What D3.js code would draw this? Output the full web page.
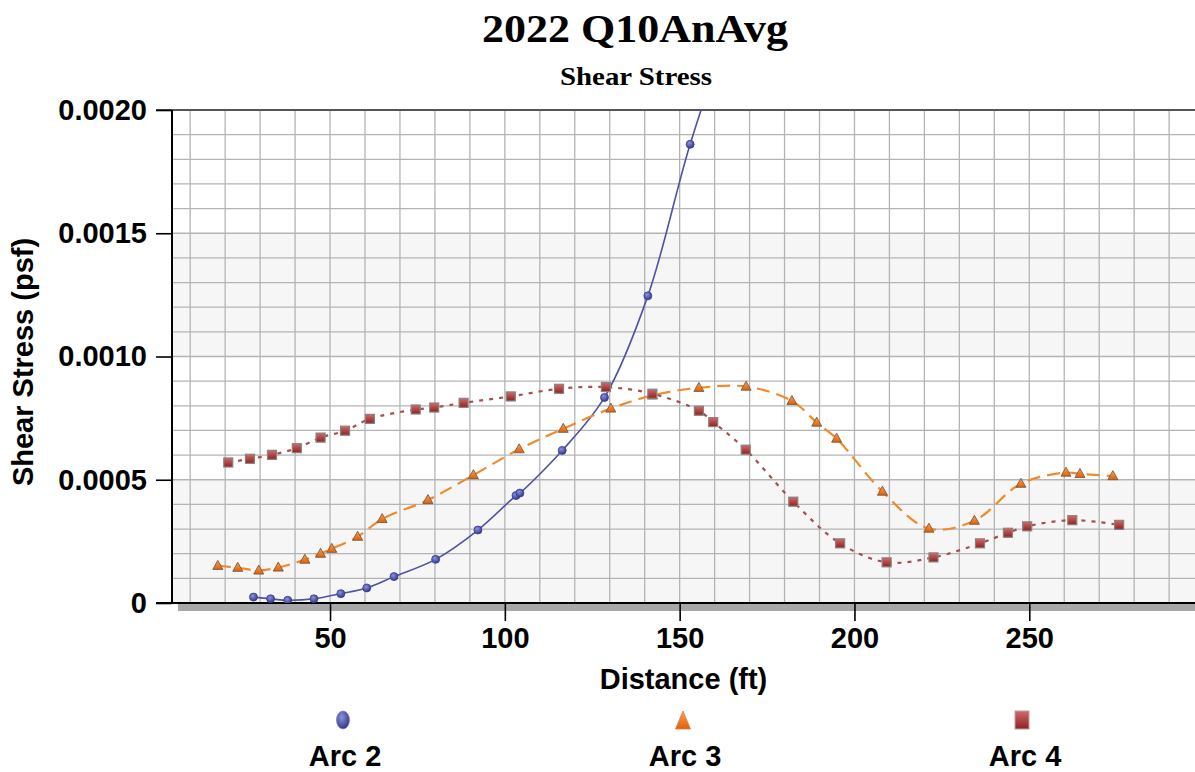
<!DOCTYPE html>
<html>
<head>
<meta charset="utf-8">
<script src="https://cdn.jsdelivr.net/npm/d3@7"></script>
<style>
  html, body { margin: 0; padding: 0; background: #ffffff; }
  svg { display: block; }
</style>
</head>
<body>
<svg id="chart" width="1195" height="772"></svg>
<script>
// ---------------- data ----------------
const chartTitle = "2022 Q10AnAvg";
const chartSubtitle = "Shear Stress";
const xTitle = "Distance (ft)";
const yTitle = "Shear Stress (psf)";

const seriesNames = ["Arc 2", "Arc 3", "Arc 4"];

const arc2X = [28.1, 33.0, 37.9, 45.4, 53.1, 60.5, 68.3, 80.2, 92.3, 103.2, 104.3, 116.4, 128.5, 140.9, 153.0, 166.0];
const arc2Y = [0.000024, 0.000017, 0.000011, 0.000017, 0.000038, 0.000061, 0.000107, 0.000177, 0.000296, 0.000436, 0.000446, 0.000619, 0.000834, 0.001246, 0.001861, 0.00241];

const arc3X = [17.9, 23.6, 29.6, 35.2, 42.8, 47.3, 50.5, 57.9, 64.9, 78.0, 91.0, 104.1, 116.7, 130.3, 142.2, 155.5, 169.0, 182.1, 189.2, 194.9, 208.0, 221.3, 234.3, 247.6, 260.5, 264.5, 273.9];
const arc3Y = [0.000151, 0.000143, 0.000132, 0.000144, 0.000176, 0.000200, 0.000220, 0.000269, 0.000341, 0.000418, 0.000519, 0.000624, 0.000707, 0.000789, 0.000842, 0.000873, 0.000878, 0.000820, 0.000732, 0.000667, 0.000452, 0.000302, 0.000334, 0.000484, 0.000529, 0.000524, 0.000515];

const arc4X = [20.9, 27.1, 33.4, 40.5, 47.3, 54.3, 61.4, 74.5, 79.8, 88.2, 101.7, 115.5, 128.9, 142.2, 155.5, 159.6, 168.9, 182.5, 195.9, 209.2, 222.6, 235.9, 243.9, 249.4, 262.3, 275.7];
const arc4Y = [0.000570, 0.000585, 0.000601, 0.000628, 0.000671, 0.000699, 0.000747, 0.000785, 0.000793, 0.000812, 0.000838, 0.000869, 0.000876, 0.000849, 0.000780, 0.000734, 0.000622, 0.000411, 0.000242, 0.000165, 0.000185, 0.000242, 0.000285, 0.000311, 0.000336, 0.000317];

const xDomain = [4.8, 297.4];
const yDomain = [0, 0.002];
const xTickValues = [50, 100, 150, 200, 250];
const xMinorStep = 10;
const yTickValues = [0, 0.0005, 0.0010, 0.0015, 0.0020];
const yTickLabels = ["0", "0.0005", "0.0010", "0.0015", "0.0020"];
const yMinorStep = 0.0001;

// ---------------- layout ----------------
const svg = d3.select("#chart");
const plot = { left: 172, right: 1195, top: 110, bottom: 603 };

const x = d3.scaleLinear().domain(xDomain).range([plot.left, plot.right]);
const y = d3.scaleLinear().domain(yDomain).range([plot.bottom, plot.top]);

const defs = svg.append("defs");
defs.append("clipPath").attr("id", "plotClip")
  .append("rect").attr("x", plot.left).attr("y", plot.top)
  .attr("width", plot.right - plot.left).attr("height", plot.bottom - plot.top);

function radial(id, c0, c1) {
  const g = defs.append("radialGradient").attr("id", id).attr("cx", "40%").attr("cy", "35%").attr("r", "70%");
  g.append("stop").attr("offset", "0%").attr("stop-color", c0);
  g.append("stop").attr("offset", "100%").attr("stop-color", c1);
}
function linear(id, c0, c1) {
  const g = defs.append("linearGradient").attr("id", id).attr("x1", "0").attr("y1", "0").attr("x2", "0").attr("y2", "1");
  g.append("stop").attr("offset", "0%").attr("stop-color", c0);
  g.append("stop").attr("offset", "100%").attr("stop-color", c1);
}
radial("gBlue", "#8c92dc", "#2c3184");
linear("gOrange", "#ffa050", "#e06008");
linear("gRed", "#d06a6a", "#8e2222");

// ---------------- background bands ----------------
const bandEdges = d3.range(yDomain[0], yDomain[1] + 1e-12, 0.0005);
const bands = svg.append("g");
for (let i = 0; i < bandEdges.length - 1; i++) {
  bands.append("rect")
    .attr("x", plot.left).attr("width", plot.right - plot.left)
    .attr("y", y(bandEdges[i + 1])).attr("height", y(bandEdges[i]) - y(bandEdges[i + 1]))
    .attr("fill", i % 2 === 0 ? "#f6f6f6" : "#ffffff");
}

// ---------------- grid ----------------
const grid = svg.append("g").attr("stroke", "#b4b4b4").attr("stroke-width", 1.3);
const xMinor = d3.range(Math.ceil(xDomain[0] / xMinorStep) * xMinorStep, xDomain[1], xMinorStep);
grid.selectAll("line.v").data(xMinor).join("line")
  .attr("x1", d => x(d)).attr("x2", d => x(d))
  .attr("y1", plot.top).attr("y2", plot.bottom);
const yMinor = d3.range(1, Math.round(yDomain[1] / yMinorStep)).map(i => i * yMinorStep);
grid.selectAll("line.h").data(yMinor).join("line")
  .attr("x1", plot.left).attr("x2", plot.right)
  .attr("y1", d => y(d)).attr("y2", d => y(d));

// ---------------- axes ----------------
svg.append("line").attr("x1", 156).attr("x2", plot.right)
  .attr("y1", plot.top).attr("y2", plot.top)
  .attr("stroke", "#555").attr("stroke-width", 2);

svg.append("rect").attr("x", plot.left + 6).attr("y", plot.bottom + 1)
  .attr("width", plot.right - plot.left - 6).attr("height", 7)
  .attr("fill", "#a8a8a8");

const yAxis = d3.axisLeft(y).tickValues(yTickValues).tickSize(16).tickPadding(9)
  .tickFormat((d, i) => yTickLabels[i]);
const gy = svg.append("g").attr("transform", `translate(${plot.left},0)`).call(yAxis);
gy.select(".domain").remove();
gy.append("line").attr("x1", 0).attr("x2", 0).attr("y1", plot.top).attr("y2", plot.bottom)
  .attr("stroke", "#000").attr("stroke-width", 2);
gy.selectAll(".tick line").attr("stroke", "#000").attr("stroke-width", 1.6);
gy.selectAll(".tick text")
  .attr("font-family", "'Liberation Sans', Arial, sans-serif")
  .attr("font-weight", "bold").attr("font-size", 29).attr("fill", "#000");

const xAxis = d3.axisBottom(x).tickValues(xTickValues).tickSize(18).tickPadding(6)
  .tickFormat(d3.format("d"));
const gx = svg.append("g").attr("transform", `translate(0,${plot.bottom})`).call(xAxis);
gx.select(".domain").remove();
gx.append("line").attr("x1", 156).attr("x2", plot.right).attr("y1", 0).attr("y2", 0)
  .attr("stroke", "#000").attr("stroke-width", 2);
gx.selectAll(".tick line").attr("stroke", "#000").attr("stroke-width", 1.6);
gx.selectAll(".tick text")
  .attr("font-family", "'Liberation Sans', Arial, sans-serif")
  .attr("font-weight", "bold").attr("font-size", 29).attr("fill", "#000");

// ---------------- series ----------------
const series = [
  { name: seriesNames[0], xs: arc2X, ys: arc2Y, color: "#4d52a4", width: 1.6, dash: null, marker: "circle" },
  { name: seriesNames[1], xs: arc3X, ys: arc3Y, color: "#f08a2c", width: 2.2, dash: "13,7", marker: "triangle" },
  { name: seriesNames[2], xs: arc4X, ys: arc4Y, color: "#a45050", width: 2.2, dash: "4,6", marker: "square" }
];

const line = d3.line().x(d => x(d[0])).y(d => y(d[1])).curve(d3.curveCatmullRom.alpha(0.5));
const plotG = svg.append("g").attr("clip-path", "url(#plotClip)");

function drawMarker(g, type, cx, cy) {
  if (type === "circle") {
    g.append("circle").attr("cx", cx).attr("cy", cy).attr("r", 4)
      .attr("fill", "url(#gBlue)").attr("stroke", "#3a3f90").attr("stroke-width", 0.8);
  } else if (type === "triangle") {
    const h = 9, w = 10;
    g.append("path").attr("d", `M${cx},${cy - h * 0.6} L${cx + w / 2},${cy + h * 0.4} L${cx - w / 2},${cy + h * 0.4} Z`)
      .attr("fill", "url(#gOrange)").attr("stroke", "#7a5a40").attr("stroke-width", 0.9);
  } else {
    const a = 9;
    g.append("rect").attr("x", cx - a / 2).attr("y", cy - a / 2).attr("width", a).attr("height", a)
      .attr("fill", "url(#gRed)").attr("stroke", "#8a8080").attr("stroke-width", 1.2);
  }
}

series.forEach(s => {
  const pts = s.xs.map((v, i) => [v, s.ys[i]]);
  plotG.append("path").datum(pts).attr("d", line)
    .attr("fill", "none").attr("stroke", s.color).attr("stroke-width", s.width)
    .attr("stroke-dasharray", s.dash);
});
series.forEach(s => {
  const mg = plotG.append("g");
  s.xs.forEach((v, i) => drawMarker(mg, s.marker, x(v), y(s.ys[i])));
});

// ---------------- titles ----------------
svg.append("text").attr("x", 635).attr("y", 42).attr("text-anchor", "middle")
  .attr("font-family", "'Liberation Serif', 'Times New Roman', serif").attr("font-weight", "bold")
  .attr("font-size", 40).attr("textLength", 306).attr("lengthAdjust", "spacingAndGlyphs")
  .attr("fill", "#000").text(chartTitle);
svg.append("text").attr("x", 636).attr("y", 85).attr("text-anchor", "middle")
  .attr("font-family", "'Liberation Serif', 'Times New Roman', serif").attr("font-weight", "bold")
  .attr("font-size", 25).attr("textLength", 152).attr("lengthAdjust", "spacingAndGlyphs")
  .attr("fill", "#000").text(chartSubtitle);

svg.append("text").attr("x", (plot.left + plot.right) / 2).attr("y", 689).attr("text-anchor", "middle")
  .attr("font-family", "'Liberation Sans', Arial, sans-serif").attr("font-weight", "bold")
  .attr("font-size", 29).attr("fill", "#000").text(xTitle);
svg.append("text").attr("transform", `translate(33,${362}) rotate(-90)`).attr("text-anchor", "middle")
  .attr("font-family", "'Liberation Sans', Arial, sans-serif").attr("font-weight", "bold")
  .attr("font-size", 29).attr("fill", "#000").text(yTitle);

// ---------------- legend ----------------
const legendX = d3.scalePoint().domain(seriesNames).range([345, 1025]);
const lg = svg.append("g");
series.forEach(s => {
  const cx = legendX(s.name);
  if (s.marker === "circle") {
    lg.append("ellipse").attr("cx", cx - 2).attr("cy", 720).attr("rx", 6.5).attr("ry", 9)
      .attr("fill", "url(#gBlue)").attr("stroke", "#7a80c0").attr("stroke-width", 0.8);
  } else if (s.marker === "triangle") {
    lg.append("path").attr("d", `M${cx - 2},${711} L${cx + 5.5},${729} L${cx - 9.5},${729} Z`)
      .attr("fill", "url(#gOrange)").attr("stroke", "#d08050").attr("stroke-width", 0.8);
  } else {
    lg.append("rect").attr("x", cx - 10).attr("y", 711).attr("width", 14).attr("height", 18)
      .attr("fill", "url(#gRed)").attr("stroke", "#c0a0a0").attr("stroke-width", 1);
  }
  lg.append("text").attr("x", cx).attr("y", 766).attr("text-anchor", "middle")
    .attr("font-family", "'Liberation Sans', Arial, sans-serif").attr("font-weight", "bold")
    .attr("font-size", 29).attr("fill", "#000").text(s.name);
});
</script>
</body>
</html>
